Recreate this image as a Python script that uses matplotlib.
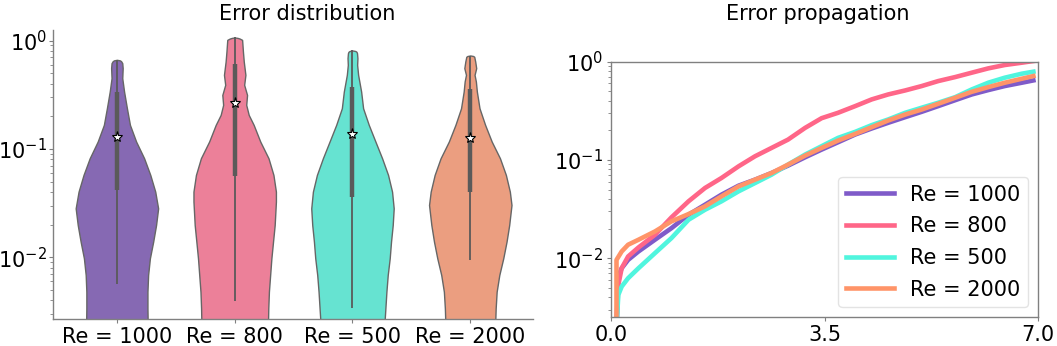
import numpy as np
import matplotlib
matplotlib.use("Agg")
import matplotlib.pyplot as plt

# ---------------- data ----------------
labels = ["Re = 1000", "Re = 800", "Re = 500", "Re = 2000"]
violin_colors = ["#8669b3", "#ec8099", "#66e3d1", "#eb9e80"]
line_colors = ["#7f5bc9", "#ff6688", "#50f5de", "#ff9468"]

# violin outlines: log10(error) level and relative half width (1 = widest)
v1000_lvl = [-0.178, -0.183, -0.190, -0.209, -0.255, -0.348, -0.471, -0.625, -0.778, -0.932,
             -1.086, -1.240, -1.394, -1.548, -1.702, -1.855, -2.009, -2.163, -2.317, -2.471,
             -2.569, -2.750]
v1000_w = [0.0, 0.07, 0.10, 0.13, 0.14, 0.13, 0.174, 0.243, 0.316, 0.466,
           0.66, 0.81, 0.93, 1.0, 0.95, 0.88, 0.80, 0.757, 0.741, 0.741,
           0.745, 0.745]

v800_lvl = [0.028, 0.024, 0.018, 0.006, -0.102, -0.194, -0.317, -0.409, -0.502, -0.594,
            -0.686, -0.778, -0.932, -1.086, -1.240, -1.394, -1.486, -1.702, -1.855, -2.009,
            -2.163, -2.317, -2.471, -2.569, -2.750]
v800_w = [0.0, 0.07, 0.12, 0.18, 0.20, 0.22, 0.26, 0.23, 0.30, 0.28,
          0.34, 0.46, 0.62, 0.82, 0.94, 1.0, 1.0, 0.97, 0.93, 0.89,
          0.86, 0.83, 0.815, 0.81, 0.80]

v500_lvl = [-0.092, -0.097, -0.104, -0.117, -0.163, -0.225, -0.317, -0.471, -0.625, -0.778,
            -0.932, -1.086, -1.240, -1.394, -1.548, -1.702, -1.855, -2.009, -2.163, -2.317,
            -2.471, -2.569, -2.750]
v500_w = [0.0, 0.07, 0.097, 0.11, 0.12, 0.113, 0.137, 0.21, 0.258, 0.395,
          0.556, 0.718, 0.863, 0.96, 1.0, 0.976, 0.935, 0.903, 0.855, 0.823,
          0.798, 0.782, 0.77]

v2000_lvl = [-0.138, -0.143, -0.150, -0.194, -0.255, -0.317, -0.378, -0.471, -0.625, -0.778,
             -0.932, -1.086, -1.240, -1.394, -1.517, -1.702, -1.855, -2.009, -2.163, -2.317,
             -2.471, -2.569, -2.750]
v2000_w = [0.0, 0.07, 0.096, 0.12, 0.144, 0.104, 0.136, 0.16, 0.224, 0.36,
           0.52, 0.72, 0.864, 0.96, 1.0, 0.944, 0.88, 0.80, 0.704, 0.64,
           0.616, 0.608, 0.60]

violin_levels = [v1000_lvl, v800_lvl, v500_lvl, v2000_lvl]
violin_widths = [v1000_w, v800_w, v500_w, v2000_w]

q1 = [0.0418, 0.0567, 0.0363, 0.0404]
q3 = [0.333, 0.605, 0.376, 0.358]
whisk_lo = [0.00563, 0.00395, 0.00338, 0.00945]
whisk_hi = [0.663, 1.066, 0.809, 0.727]
means = [0.130, 0.264, 0.1366, 0.127]

# error propagation curves
t_grid = [0.09, 0.12, 0.175, 0.28, 0.45, 0.72, 0.99, 1.27, 1.54, 1.81, 2.09, 2.36, 2.63, 2.90,
          3.18, 3.45, 3.72, 4.00, 4.27, 4.54, 4.82, 5.09, 5.36, 5.64, 5.91, 6.18, 6.45, 6.73, 6.92]
err_1000 = [0.002, 0.0065, 0.0079, 0.0096, 0.0117, 0.0154, 0.0202, 0.0277, 0.035, 0.0443,
            0.0547, 0.063, 0.0736, 0.0875, 0.1064, 0.1274, 0.1514, 0.1814, 0.2089, 0.2387,
            0.2725, 0.309, 0.353, 0.406, 0.464, 0.514, 0.565, 0.611, 0.645]
err_800 = [0.002, 0.00534, 0.00791, 0.0104, 0.01285, 0.0173, 0.026, 0.0379, 0.0518, 0.0655,
           0.0861, 0.109, 0.1325, 0.161, 0.212, 0.266, 0.302, 0.353, 0.413, 0.464,
           0.510, 0.565, 0.635, 0.698, 0.773, 0.855, 0.925, 0.977, 1.016]
err_500 = [0.002, 0.00423, 0.00514, 0.00625, 0.0079, 0.01125, 0.016, 0.0246, 0.0311, 0.0379,
           0.0479, 0.0582, 0.0708, 0.0896, 0.1134, 0.1379, 0.1677, 0.193, 0.226, 0.258,
           0.302, 0.340, 0.382, 0.436, 0.522, 0.611, 0.687, 0.755, 0.791]
t_2000 = [0.09, 0.09, 0.175, 0.28, 0.45, 0.72, 0.99, 1.27, 1.54, 1.81, 2.09, 2.36, 2.63, 2.90,
          3.18, 3.45, 3.72, 4.00, 4.27, 4.54, 4.82, 5.09, 5.36, 5.64, 5.91, 6.18, 6.45, 6.73, 6.92]
err_2000 = [0.002, 0.0096, 0.0117, 0.0137, 0.0154, 0.0187, 0.0237, 0.0281, 0.0337, 0.0426,
            0.0538, 0.063, 0.0736, 0.0896, 0.1107, 0.1325, 0.1575, 0.184, 0.2155, 0.252,
            0.290, 0.326, 0.373, 0.430, 0.494, 0.551, 0.611, 0.671, 0.714]

curve_t = [t_grid, t_grid, t_grid, t_2000]
curve_err = [err_1000, err_800, err_500, err_2000]

x_ticks = [0.0, 3.5, 7.0]
x_ticklabels = ["0.0", "3.5", "7.0"]

# ---------------- figure ----------------
W, H = 1057, 346
fig = plt.figure(figsize=(W / 100, H / 100), dpi=100)
FS = 15
spine_c = "#808080"

ax1 = fig.add_axes([53.3 / W, 1 - 319 / H, 479.4 / W, 289 / H])
ax2 = fig.add_axes([611 / W, 1 - 317.3 / H, 427.3 / W, 255.6 / H])

half = 0.35
for i in range(4):
    lv = 10.0 ** np.asarray(violin_levels[i])
    wv = np.asarray(violin_widths[i]) * half
    ax1.fill_betweenx(lv, i - wv, i + wv, facecolor=violin_colors[i],
                      edgecolor="#666666", linewidth=1.0, zorder=1)
    ax1.vlines(i, whisk_lo[i], whisk_hi[i], color="#5a5a5a", linewidth=1.3, zorder=2)
    ax1.vlines(i, q1[i], q3[i], color="#5a5a5a", linewidth=3.2, zorder=3)
    ax1.plot([i], [means[i]], marker="*", markersize=8, markerfacecolor="white",
             markeredgecolor="black", markeredgewidth=0.8, zorder=4, linestyle="none")

ax1.set_yscale("log")
ax1.set_ylim(0.0027, 1.25)
ax1.set_xlim(-0.54, 3.53)
ax1.set_xticks(range(4))
ax1.set_xticklabels(labels)
for s in ["top", "right"]:
    ax1.spines[s].set_visible(False)

for i in range(4):
    ax2.plot(curve_t[i], curve_err[i], color=line_colors[i], linewidth=3.3, label=labels[i])
ax2.set_yscale("log")
ax2.set_ylim(0.0025, 1.0)
ax2.set_xlim(0, 7)
ax2.set_xticks(x_ticks)
ax2.set_xticklabels(x_ticklabels)
leg = ax2.legend(loc="lower right", fontsize=FS, handlelength=2.3, borderpad=0.35,
                 handletextpad=0.8, labelspacing=0.56)
leg.get_frame().set_edgecolor("#dddddd")

for ax in (ax1, ax2):
    for s in ax.spines.values():
        s.set_color(spine_c)
        s.set_linewidth(1.0)
    ax.tick_params(which="major", length=3, width=0.8, color=spine_c, labelsize=FS, pad=2.5)
    ax.tick_params(which="minor", length=2, width=0.6, color=spine_c)
ax1.tick_params(axis="y", which="major", pad=1.5)

fig.text(307 / W, 1 - 20 / H, "Error distribution", ha="center", va="baseline", fontsize=FS)
fig.text(817.5 / W, 1 - 20 / H, "Error propagation", ha="center", va="baseline", fontsize=FS)

fig.savefig("out.png", dpi=100)
